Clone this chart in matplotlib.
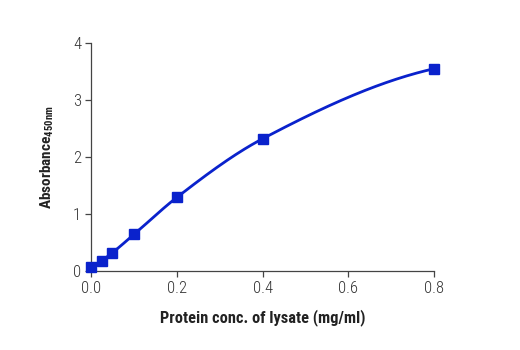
import numpy as np
import matplotlib.pyplot as plt

plt.rcParams["font.family"] = ["Roboto Condensed", "DejaVu Sans"]
plt.rcParams["mathtext.fontset"] = "custom"
plt.rcParams["mathtext.rm"] = "Roboto Condensed:bold"

protein_conc = [0.0, 0.025, 0.05, 0.1, 0.2, 0.4, 0.8]
absorbance = [0.075, 0.18, 0.32, 0.64, 1.29, 2.32, 3.55]

x_ticks = [0.0, 0.2, 0.4, 0.6, 0.8]
x_tick_labels = ["0.0", "0.2", "0.4", "0.6", "0.8"]
y_ticks = [0, 1, 2, 3, 4]

line_color = "#0a22cc"


def pchip_curve(x, y, n=200):
    # smooth monotone curve through the measured points (drawing only)
    x = np.asarray(x, dtype=float)
    y = np.asarray(y, dtype=float)
    h = np.diff(x)
    delta = np.diff(y) / h
    d = np.zeros_like(y)
    for k in range(1, len(x) - 1):
        if delta[k - 1] * delta[k] > 0:
            w1 = 2 * h[k] + h[k - 1]
            w2 = h[k] + 2 * h[k - 1]
            d[k] = (w1 + w2) / (w1 / delta[k - 1] + w2 / delta[k])
    d[0] = delta[0]
    d[-1] = ((2 * h[-1] + h[-2]) * delta[-1] - h[-1] * delta[-2]) / (h[-1] + h[-2])
    xs = np.linspace(x[0], x[-1], n)
    idx = np.clip(np.searchsorted(x, xs) - 1, 0, len(x) - 2)
    t = (xs - x[idx]) / h[idx]
    h00 = 2 * t**3 - 3 * t**2 + 1
    h10 = t**3 - 2 * t**2 + t
    h01 = -2 * t**3 + 3 * t**2
    h11 = t**3 - t**2
    ys = h00 * y[idx] + h10 * h[idx] * d[idx] + h01 * y[idx + 1] + h11 * h[idx] * d[idx + 1]
    return xs, ys


curve_x, curve_y = pchip_curve(protein_conc, absorbance)

fig = plt.figure(figsize=(5.2, 3.5), dpi=100)
ax = fig.add_axes([0.175, 0.226, 0.66, 0.651])

ax.plot(curve_x, curve_y, color=line_color, linewidth=2.0, clip_on=False)
ax.plot(
    protein_conc,
    absorbance,
    linestyle="none",
    marker="s",
    markersize=7.5,
    color=line_color,
    clip_on=False,
    zorder=3,
)

ax.set_xlim(0, 0.8)
ax.set_ylim(0, 4)
ax.set_xticks(x_ticks)
ax.set_xticklabels(x_tick_labels)
ax.set_yticks(y_ticks)

for side in ["top", "right"]:
    ax.spines[side].set_visible(False)
for side in ["left", "bottom"]:
    ax.spines[side].set_color("#444444")
    ax.spines[side].set_linewidth(0.9)

ax.tick_params(
    direction="out",
    length=4,
    width=0.9,
    color="#444444",
    labelsize=12,
    labelcolor="#333333",
    pad=3,
)
for lbl in ax.get_xticklabels() + ax.get_yticklabels():
    lbl.set_fontweight(300)

ax.set_xlabel(
    "Protein conc. of lysate (mg/ml)",
    fontsize=11.8,
    fontweight="bold",
    color="#222222",
    labelpad=10,
)
ax.set_ylabel(
    r"Absorbance$_{\mathrm{450nm}}$",
    fontsize=11,
    fontweight="bold",
    color="#222222",
    labelpad=12,
)

fig.savefig("out.png", dpi=100)
